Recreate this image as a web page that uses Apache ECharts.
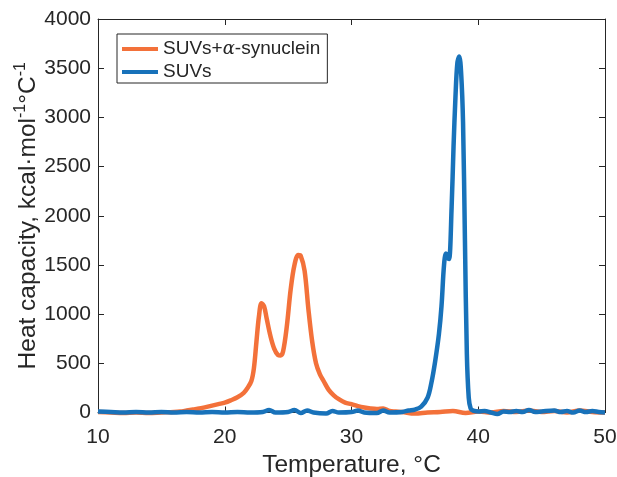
<!DOCTYPE html>
<html>
<head>
<meta charset="utf-8">
<script src="https://cdn.jsdelivr.net/npm/echarts@6/dist/echarts.min.js"></script>
<style>html,body{margin:0;padding:0;background:#fff}#c{width:617px;height:477px}</style>
</head>
<body>
<div id="c"></div>
<script>
// Temperature (°C) and heat capacity (kcal·mol⁻¹°C⁻¹)
const orangeT = [10,11,12,13,14,15,16,16.5,17,17.5,18,18.5,19,19.5,20,20.5,21,21.5,21.8,22.1,22.3,22.5,22.7,22.9,23.1,23.3,23.6,23.9,24.2,24.4,24.6,24.9,25.2,25.5,25.8,26.0,26.3,26.6,26.9,27.2,27.5,27.8,28.2,28.6,29,29.5,30,30.5,31,31.5,32,32.5,33,33.5,34,35,36,37,38,39,40,41,42,43,44,45,46,47,48,49,50];
const orangeCp = [5,0,-5,0,-5,0,5,10,20,30,40,55,70,85,100,125,155,200,250,320,450,720,980,1110,1080,960,780,650,585,580,620,880,1250,1500,1600,1590,1440,1050,720,500,390,320,230,175,135,100,85,65,50,40,35,40,15,10,5,-10,0,5,15,-5,10,0,15,5,20,5,15,0,20,5,0];
const blueT = [10,11,12,13,14,15,16,17,18,19,20,21,22,23,23.5,24,25,25.5,26,26.5,27,28,28.5,29,30,30.5,31,32,32.5,33,34,34.5,35,35.5,36,36.3,36.6,36.9,37.1,37.3,37.45,37.6,37.7,37.9,38.05,38.2,38.35,38.5,38.65,38.8,38.95,39.1,39.25,39.4,39.6,40,40.5,41,41.5,42,42.5,43,43.5,44,44.5,45,46,46.5,47,47.5,48,48.5,49,49.5,50];
const blueCp = [10,5,0,5,0,5,0,5,0,5,0,5,0,5,25,0,5,25,-5,20,0,-10,15,0,5,20,0,-5,20,0,5,20,30,60,150,300,520,800,1080,1500,1615,1570,1560,2090,2700,3200,3550,3620,3450,2950,1750,600,150,40,20,10,15,0,-15,10,5,15,5,25,5,10,20,5,15,0,20,5,15,5,0];
const seriesNames = ['SUVs+α-synuclein','SUVs'];
const xTicks = {min:10, max:50, interval:10};
const yTicks = {min:0, max:4000, interval:500};

const pair = (xs, ys) => xs.map((x,i)=>[x, ys[i]]);
const ink = '#262626';
const font = 'Liberation Sans, Arial, Helvetica, sans-serif';

const chart = echarts.init(document.getElementById('c'), null, {renderer:'canvas'});
chart.setOption({
  animation:false,
  backgroundColor:'#fff',
  grid:{left:98, right:12, top:19, bottom:64.5, show:false, containLabel:false, outerBoundsMode:'none'},
  legend:{
    orient:'vertical', left:117, top:34,
    data:seriesNames,
    icon:'rect', itemWidth:36, itemHeight:4, itemGap:1,
    borderColor:ink, borderWidth:1, padding:[4,7,0,5],
    backgroundColor:'#fff',
    formatter: n => n === seriesNames[0] ? '{a|SUVs+}{g|α}{a|-synuclein}' : '{a|SUVs}',
    textStyle:{
      color:ink, fontFamily:font, fontSize:19, lineHeight:22,
      rich:{
        a:{fontFamily:font, fontSize:19, color:ink, lineHeight:22},
        g:{fontFamily:'DejaVu Serif, serif', fontStyle:'italic', fontSize:18, color:ink, lineHeight:22}
      }
    }
  },
  xAxis:[{
    type:'value', min:xTicks.min, max:xTicks.max, interval:xTicks.interval,
    name:'Temperature, °C', nameLocation:'middle', nameGap:40, nameMoveOverlap:false,
    nameTextStyle:{fontFamily:font, fontSize:24.5, color:ink},
    axisLine:{show:true, lineStyle:{color:ink, width:1}},
    axisTick:{show:true, inside:true, length:6, lineStyle:{color:ink}},
    axisLabel:{fontFamily:font, fontSize:21, color:ink, margin:14},
    splitLine:{show:false}
  },{
    type:'value', position:'top', min:xTicks.min, max:xTicks.max, interval:xTicks.interval,
    axisLine:{show:true, onZero:false, lineStyle:{color:ink, width:1}},
    axisTick:{show:true, inside:true, length:6, lineStyle:{color:ink}},
    axisLabel:{show:false}, splitLine:{show:false}
  }],
  yAxis:[{
    type:'value', min:yTicks.min, max:yTicks.max, interval:yTicks.interval,
    name:'{a|Heat capacity, kcal·mol}{s|-1}{a|°C}{s|-1}', nameLocation:'middle', nameGap:57, nameMoveOverlap:false,
    nameTextStyle:{fontFamily:font, fontSize:24.5, color:ink,
      rich:{
        a:{fontFamily:font, fontSize:24.5, color:ink, lineHeight:28, verticalAlign:'bottom'},
        s:{fontFamily:font, fontSize:16, color:ink, lineHeight:28, verticalAlign:'top'}
      }},
    axisLine:{show:true, lineStyle:{color:ink, width:1}},
    axisTick:{show:true, inside:true, length:6, lineStyle:{color:ink}},
    axisLabel:{fontFamily:font, fontSize:21, color:ink, margin:7, formatter: v => String(v)},
    splitLine:{show:false}
  },{
    type:'value', position:'right', min:yTicks.min, max:yTicks.max, interval:yTicks.interval,
    axisLine:{show:true, onZero:false, lineStyle:{color:ink, width:1}},
    axisTick:{show:true, inside:true, length:6, lineStyle:{color:ink}},
    axisLabel:{show:false}, splitLine:{show:false}
  }],
  series:[{
    name:seriesNames[0], type:'line', data:pair(orangeT, orangeCp),
    showSymbol:false, smooth:0.35, clip:false,
    itemStyle:{color:'#F3713A'},
    lineStyle:{color:'#F3713A', width:4.5}
  },{
    name:seriesNames[1], type:'line', data:pair(blueT, blueCp),
    showSymbol:false, smooth:0.35, clip:false,
    itemStyle:{color:'#1872BA'},
    lineStyle:{color:'#1872BA', width:4.5}
  }]
});
</script>
</body>
</html>
